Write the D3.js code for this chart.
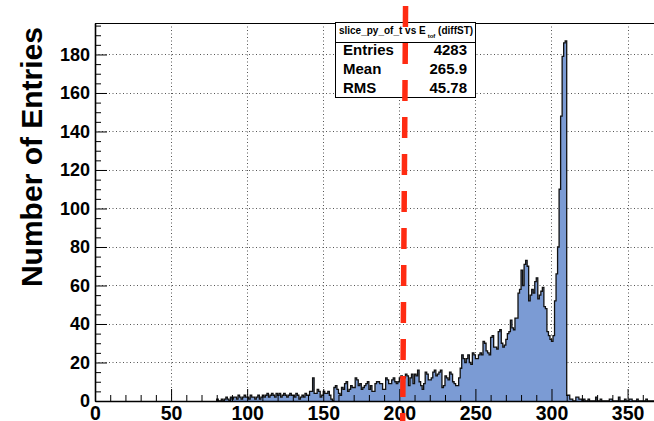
<!DOCTYPE html>
<html>
<head>
<meta charset="utf-8">
<script src="https://cdn.jsdelivr.net/npm/d3@7"></script>
<style>
  html, body { margin: 0; padding: 0; background: #fff; }
  svg { display: block; }
  text { font-family: "Liberation Sans", Arial, Helvetica, sans-serif; font-weight: bold; }
</style>
</head>
<body>
<svg id="chart" width="654" height="421"></svg>
<script>
// Histogram: 1-unit bins starting at 80
const binLowEdge = 80;
const binWidth = 1;
const binCounts = [
  1,0,0,1,0,1,2,1,0,2,        // 80
  1,2,2,1,3,2,1,2,3,2,        // 90
  2,1,3,2,2,1,2,3,1,2,        // 100
  3,2,3,4,2,3,4,3,2,4,        // 110
  3,4,2,3,4,3,2,3,4,3,        // 120
  3,2,4,3,1,2,3,2,4,3,        // 130
  3,5,5,12,4,4,6,5,2,3,       // 140
  5,4,4,5,3,1,0,7,8,6,        // 150
  4,3,7,6,9,10,5,6,8,7,       // 160
  7,12,11,8,9,6,7,8,9,10,     // 170
  6,8,5,5,9,10,10,9,9,6,      // 180
  6,12,11,9,9,11,12,10,9,10,  // 190
  12,13,11,12,14,13,8,12,14,9,   // 200
  14,13,16,10,8,6,9,15,14,11,    // 210
  11,12,15,16,13,14,15,16,7,8,   // 220
  13,12,11,15,14,10,9,8,8,12,    // 230
  17,24,22,20,22,24,20,19,25,24, // 240
  22,22,24,25,24,31,30,26,25,24, // 250
  33,34,28,28,27,36,37,30,28,29, // 260
  32,35,36,42,38,37,43,43,56,58, // 270
  68,60,71,73,70,52,55,58,56,62, // 280
  64,53,55,57,59,49,48,36,34,32, // 290
  31,34,52,66,80,110,148,179,186,187, // 300
  3,3,1,1,0,0,2,2,1,1,        // 310
  0,1,0,0,1,0,0,0,0,2,        // 320
  0,0,1,0,0,0,0,0,1,1,        // 330
  0,0,0,0,2,0,0,0,1,0,        // 340
  0,1,1,0,0,0,1,0,0,0,        // 350
  0,0,1,0,0,0,0,0,0,0         // 360
];

const xDomain = [0, 370];
const xMajorTicks = [0, 50, 100, 150, 200, 250, 300, 350];
const yMajorTicks = [0, 20, 40, 60, 80, 100, 120, 140, 160, 180];
const yTitle = "Number of Entries";

const statsTitleMain = "slice_py_of_t vs E";
const statsTitleSub = "tof";
const statsTitleTail = " (diffST)";
const statsLabels = ["Entries", "Mean", "RMS"];
const statsValues = ["4283", "265.9", "45.78"];

// Cut marker (dashed red line), in data units: x at top/bottom, y extent
const cutLineX = [204.1, 202.2];
const cutLineY = [205.2, -10.4];

const svg = d3.select("#chart");
const frame = { left: 95, right: 658, top: 23, bottom: 401 };

const x = d3.scaleLinear().domain(xDomain).range([frame.left, frame.right]);
const yMax = d3.max(binCounts) * 1.05;
const y = d3.scaleLinear().domain([0, yMax]).range([frame.bottom, frame.top]);

// dotted grid
const grid = svg.append("g").attr("stroke", "#555").attr("stroke-width", 1)
  .attr("stroke-dasharray", "1 2.5");
grid.selectAll("line.v").data(xMajorTicks.filter(d => d > 0)).join("line")
  .attr("x1", d => Math.round(x(d)) + 0.5).attr("x2", d => Math.round(x(d)) + 0.5)
  .attr("y1", frame.top).attr("y2", frame.bottom);
grid.selectAll("line.h").data(yMajorTicks.filter(d => d > 0)).join("line")
  .attr("y1", d => Math.round(y(d)) + 0.5).attr("y2", d => Math.round(y(d)) + 0.5)
  .attr("x1", frame.left).attr("x2", frame.right);

// histogram steps
const steps = [];
binCounts.forEach((c, i) => {
  const lo = binLowEdge + i * binWidth;
  steps.push([lo, c], [lo + binWidth, c]);
});
const lastEdge = binLowEdge + binCounts.length * binWidth;
const outline = [[binLowEdge, 0], ...steps, [lastEdge, 0]];

svg.append("path")
  .datum(steps)
  .attr("fill", "#7b9bd4")
  .attr("d", d3.area().x(d => x(d[0])).y0(y(0)).y1(d => y(d[1])));
svg.append("path")
  .datum(outline)
  .attr("fill", "none")
  .attr("stroke", "#111")
  .attr("stroke-width", 1.3)
  .attr("stroke-linejoin", "miter")
  .attr("d", d3.line().x(d => x(d[0])).y(d => y(d[1])));

// frame top line
svg.append("line")
  .attr("x1", frame.left).attr("x2", frame.right)
  .attr("y1", frame.top + 0.5).attr("y2", frame.top + 0.5)
  .attr("stroke", "#000").attr("stroke-width", 1);

// axes (ticks point inward)
const xMinor = d3.range(xDomain[0], xDomain[1] + 0.1, 10).filter(v => v % 50 !== 0);
const yMinor = d3.range(0, yMax, 5).filter(v => v % 20 !== 0);

const xAxis = svg.append("g").attr("transform", `translate(0,${frame.bottom})`)
  .call(d3.axisBottom(x).tickValues(xMajorTicks).tickSize(-12).tickSizeOuter(0).tickPadding(5));
svg.append("g").attr("transform", `translate(0,${frame.bottom})`)
  .call(d3.axisBottom(x).tickValues(xMinor).tickSize(-6).tickFormat(""))
  .call(g => g.select(".domain").remove());
xAxis.selectAll("text").attr("font-size", 19.5).attr("fill", "#000")
  .style("font-family", '"Liberation Sans", Arial, sans-serif').style("font-weight", "bold");

const yAxis = svg.append("g").attr("transform", `translate(${frame.left},0)`)
  .call(d3.axisLeft(y).tickValues(yMajorTicks).tickSize(-12).tickSizeOuter(0).tickPadding(5));
svg.append("g").attr("transform", `translate(${frame.left},0)`)
  .call(d3.axisLeft(y).tickValues(yMinor).tickSize(-6).tickFormat(""))
  .call(g => g.select(".domain").remove());
yAxis.selectAll("text").attr("font-size", 18).attr("fill", "#000")
  .style("font-family", '"Liberation Sans", Arial, sans-serif').style("font-weight", "bold");

svg.selectAll(".domain").attr("stroke", "#000").attr("stroke-width", 1.6);
svg.selectAll(".tick line").attr("stroke", "#000").attr("stroke-width", 1);

// y-axis title
svg.append("text")
  .attr("transform", `translate(42,${frame.top + 4}) rotate(-90)`)
  .attr("text-anchor", "end")
  .attr("font-size", 30)
  .attr("fill", "#000")
  .text(yTitle);

// statistics box
const box = { x: 335, y: 22, w: 140, h: 75, titleH: 20 };
const sb = svg.append("g");
sb.append("rect")
  .attr("x", box.x + 0.5).attr("y", box.y + 0.5).attr("width", box.w).attr("height", box.h)
  .attr("fill", "#fff").attr("stroke", "#000").attr("stroke-width", 1);
sb.append("line")
  .attr("x1", box.x).attr("x2", box.x + box.w)
  .attr("y1", box.y + box.titleH + 0.5).attr("y2", box.y + box.titleH + 0.5)
  .attr("stroke", "#000").attr("stroke-width", 1);
const title = sb.append("text")
  .attr("x", box.x + box.w / 2 + 1).attr("y", box.y + 12)
  .attr("text-anchor", "middle").attr("font-size", 10).attr("fill", "#000");
title.append("tspan").text(statsTitleMain);
title.append("tspan").attr("font-size", 6).attr("dx", 2).attr("dy", 3.5).text(statsTitleSub);
title.append("tspan").attr("dy", -3.5).text(statsTitleTail);

statsLabels.forEach((lab, i) => {
  const by = box.y + 33 + i * 19;
  sb.append("text").attr("x", box.x + 8).attr("y", by)
    .attr("font-size", 15).attr("fill", "#000").text(lab);
  sb.append("text").attr("x", box.x + box.w - 8).attr("y", by)
    .attr("text-anchor", "end").attr("font-size", 15).attr("fill", "#000").text(statsValues[i]);
});

// dashed red cut marker, drawn on top
svg.append("line")
  .attr("x1", x(cutLineX[0])).attr("y1", y(cutLineY[0]))
  .attr("x2", x(cutLineX[1])).attr("y2", y(cutLineY[1]))
  .attr("stroke", "#ff2b12")
  .attr("stroke-width", 5.5)
  .attr("stroke-dasharray", "21 16");
</script>
</body>
</html>
